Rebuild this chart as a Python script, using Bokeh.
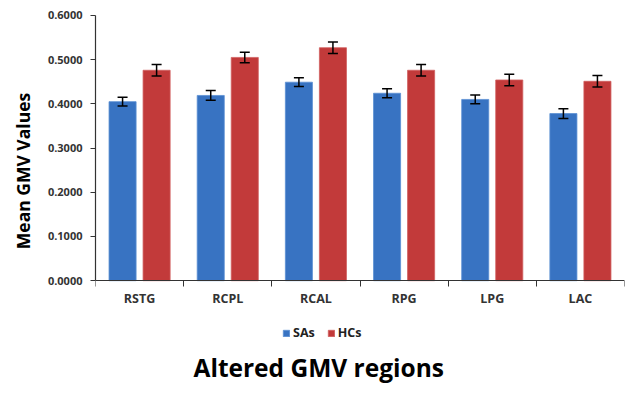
from bokeh.plotting import figure
from bokeh.models import (Range1d, FixedTicker, ColumnDataSource, Whisker, Legend,
                          LegendItem, Title, NumeralTickFormatter, TeeHead)
from bokeh.embed import file_html
from bokeh.resources import INLINE

regions = ["RSTG", "RCPL", "RCAL", "RPG", "LPG", "LAC"]
sas = [0.405, 0.419, 0.449, 0.424, 0.410, 0.378]
sas_err = [0.010, 0.011, 0.010, 0.010, 0.010, 0.011]
hcs = [0.476, 0.505, 0.527, 0.476, 0.454, 0.451]
hcs_err = [0.013, 0.012, 0.013, 0.013, 0.013, 0.013]
y_ticks = [0.0, 0.1, 0.2, 0.3, 0.4, 0.5, 0.6]

BLUE = "#3873c2"
RED = "#c23a3a"
FONT = "Open Sans"

off = 0.193
bw = 0.307
centers = [i + 0.5 for i in range(len(regions))]
src = ColumnDataSource(dict(
    xs=[c - off for c in centers], xh=[c + off for c in centers],
    s=sas, h=hcs,
    sl=[v - e for v, e in zip(sas, sas_err)], su=[v + e for v, e in zip(sas, sas_err)],
    hl=[v - e for v, e in zip(hcs, hcs_err)], hu=[v + e for v, e in zip(hcs, hcs_err)],
))

W, H = 630, 390
p = figure(width=W, height=H, output_backend="svg", toolbar_location=None,
           x_range=Range1d(0, len(regions)), y_range=Range1d(-0.1376, 0.6338),
           min_border_left=95, min_border_right=6, min_border_top=0, min_border_bottom=48)
p.outline_line_color = None
p.grid.visible = False
p.background_fill_color = "white"
p.border_fill_color = "white"

rb = p.vbar(x="xs", top="s", width=bw, source=src, fill_color=BLUE, line_color="#5b8fd3", line_width=0.8)
rr = p.vbar(x="xh", top="h", width=bw, source=src, fill_color=RED, line_color="#d06060", line_width=0.8)

for base, lo, up in (("xs", "sl", "su"), ("xh", "hl", "hu")):
    w = Whisker(source=src, base=base, lower=lo, upper=up, line_color="black", line_width=1.5,
                level="overlay",
                upper_head=TeeHead(size=10, line_color="black", line_width=1.5),
                lower_head=TeeHead(size=10, line_color="black", line_width=1.5))
    p.add_layout(w)

# axes
xa = p.xaxis[0]
xa.fixed_location = 0
xa.ticker = FixedTicker(ticks=centers, minor_ticks=list(range(len(regions) + 1)))
xa.major_label_overrides = {c: r for c, r in zip(centers, regions)}
xa.major_tick_line_color = None
xa.major_tick_out = 6
xa.minor_tick_out = 6
xa.minor_tick_in = 0
xa.minor_tick_line_color = "#333333"
xa.axis_line_color = "#333333"
xa.axis_line_width = 1.2
xa.major_label_standoff = 3
xa.major_label_text_font = FONT
xa.major_label_text_font_style = "bold"
xa.major_label_text_font_size = "12.5px"
xa.major_label_text_color = "#333333"

ya = p.yaxis[0]
ya.bounds = (0, 0.6)
ya.ticker = FixedTicker(ticks=y_ticks, minor_ticks=[])
ya.formatter = NumeralTickFormatter(format="0.0000")
ya.major_tick_out = 5
ya.major_tick_in = 0
ya.major_tick_line_color = "#333333"
ya.axis_line_color = "#333333"
ya.axis_line_width = 1.2
ya.major_label_standoff = 8
ya.major_label_text_font = FONT
ya.major_label_text_font_style = "bold"
ya.major_label_text_font_size = "11px"
ya.major_label_text_color = "#333333"
ya.axis_label = "Mean GMV Values"
ya.axis_label_text_font = FONT
ya.axis_label_text_font_style = "bold"
ya.axis_label_text_font_size = "17.5px"
ya.axis_label_text_color = "black"
ya.axis_label_standoff = 10

legend = Legend(items=[LegendItem(label="SAs", renderers=[rb]), LegendItem(label="HCs", renderers=[rr])],
                location=(187, 0), orientation="horizontal",
                glyph_width=8, glyph_height=8, padding=0, margin=0, spacing=12, label_standoff=3,
                border_line_color=None, background_fill_alpha=0,
                label_text_font=FONT, label_text_font_size="12.5px", label_text_font_style="bold",
                label_text_color="#222222")
p.add_layout(legend)

title = Title(text="Altered GMV regions", align="left", offset=98, standoff=14,
              text_font=FONT, text_font_style="bold", text_font_size="24.5px", text_color="black")
p.add_layout(title, "below")

open("out.html", "w").write(file_html(p, INLINE))
